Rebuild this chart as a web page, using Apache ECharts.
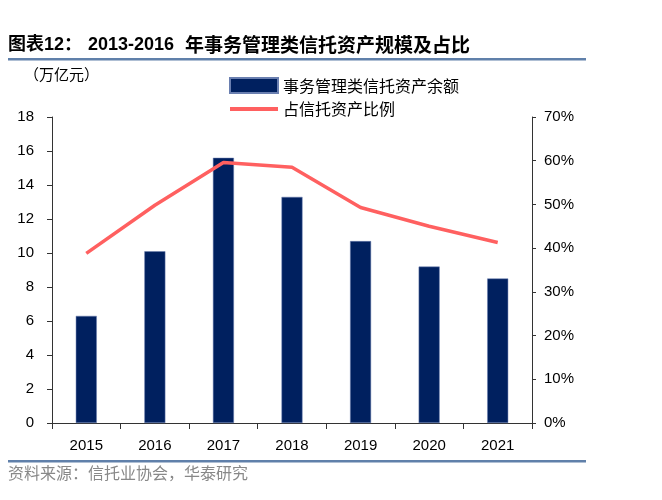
<!DOCTYPE html>
<html><head><meta charset="utf-8">
<script src="https://cdn.jsdelivr.net/npm/echarts@6/dist/echarts.min.js"></script>
<style>html,body{margin:0;padding:0;background:#fff}#c{width:662px;height:500px}</style>
</head><body><div id="c"></div>
<script>
const years = ['2015','2016','2017','2018','2019','2020','2021'];
const balance = [6.3, 10.1, 15.6, 13.3, 10.7, 9.2, 8.5];
const share = [38.8, 49.8, 59.6, 58.5, 49.3, 45.0, 41.3];
const leftTicks = {min: 0, max: 18, interval: 2};
const rightTicks = {min: 0, max: 70, interval: 10};

const chart = echarts.init(document.getElementById('c'));
const cjk = '"Noto Sans CJK SC", sans-serif';
const axisColor = '#333';
chart.setOption({
  animation: false,
  graphic: [
    {type:'text', left: 8, top: 36, style:{text:'图表12：', font:'bold 18px "Liberation Sans", "Noto Sans CJK SC"', fill:'#000'}},
    {type:'text', left: 88, top: 36, style:{text:'2013-2016', font:'bold 18px "Liberation Sans", "Noto Sans CJK SC"', fill:'#000'}},
    {type:'text', left: 185, top: 35, style:{text:'年事务管理类信托资产规模及占比', font:'bold 19px "Noto Sans CJK SC"', fill:'#000'}},
    {type:'rect', shape:{x:8,y:58,width:578,height:2.5}, style:{fill:'#6080aa'}},
    {type:'text', left: 24, top: 67, style:{text:'（万亿元）', font:'15px '+cjk, fill:'#000'}},
    {type:'rect', shape:{x:8,y:460,width:578,height:2.5}, style:{fill:'#6080aa'}},
    {type:'text', left: 8, top: 465, style:{text:'资料来源：信托业协会，华泰研究', font:'16px '+cjk, fill:'#888'}}
  ],
  legend: {
    orient: 'vertical', left: 224, top: 72, itemGap: 7, itemWidth: 48, itemHeight: 15,
    textStyle: {fontFamily: cjk, fontSize: 16, color:'#000'},
    data: [
      {name:'事务管理类信托资产余额', icon:'rect'},
      {name:'占信托资产比例', icon:'path://M0,0 L48,0 L48,4 L0,4 Z'}
    ]
  },
  grid: {left: 52, right: 130, top: 117, bottom: 77},
  xAxis: {
    type: 'category', data: years,
    axisLine: {lineStyle:{color: axisColor}},
    axisTick: {show:true, alignWithLabel:false, length: 6, inside:false, lineStyle:{color:axisColor}},
    axisLabel: {color:'#000', fontSize: 15, fontFamily:'"Liberation Sans", Arial', margin: 15}
  },
  yAxis: [
    {type:'value', min:leftTicks.min, max:leftTicks.max, interval:leftTicks.interval,
     splitLine:{show:false},
     axisLine:{show:true, lineStyle:{color:axisColor}},
     axisTick:{show:true, length:5, lineStyle:{color:axisColor}},
     axisLabel:{color:'#000', fontSize:15, fontFamily:'"Liberation Sans", Arial', margin: 18}},
    {type:'value', min:rightTicks.min, max:rightTicks.max, interval:rightTicks.interval,
     splitLine:{show:false},
     axisLine:{show:true, lineStyle:{color:axisColor}},
     axisTick:{show:true, length:4, lineStyle:{color:axisColor}},
     axisLabel:{color:'#000', fontSize:15, fontFamily:'"Liberation Sans", Arial', margin: 12, formatter:'{value}%'}}
  ],
  series: [
    {name:'事务管理类信托资产余额', type:'bar', data: balance, barWidth: 21,
     itemStyle:{color:'#00205f', borderColor:'#6a7fb0', borderWidth:0.5}},
    {name:'占信托资产比例', type:'line', yAxisIndex:1, data: share, symbol:'none',
     lineStyle:{color:'#ff6060', width:3.5}, itemStyle:{color:'#ff6060'}}
  ]
});
</script></body></html>
